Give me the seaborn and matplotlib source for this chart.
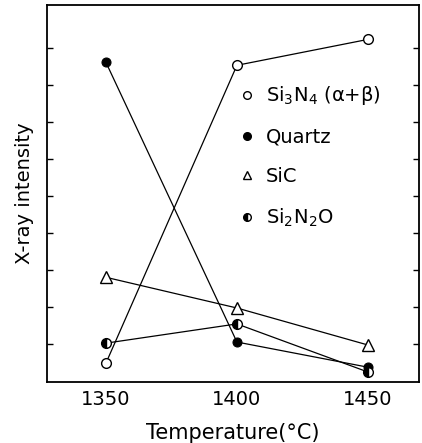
import matplotlib
matplotlib.use("Agg")
import matplotlib.pyplot as plt
import seaborn as sns
import numpy as np
from matplotlib.lines import Line2D

sns.set_theme(style="white")
plt.rcParams['font.family'] = ['DejaVu Sans']
plt.rcParams['mathtext.fontset'] = 'dejavusans'
plt.rcParams['text.color'] = 'black'
plt.rcParams['axes.labelcolor'] = 'black'
plt.rcParams['xtick.color'] = 'black'
plt.rcParams['ytick.color'] = 'black'

temperatures = [1350, 1400, 1450]
si3n4 = [0.47, 8.52, 9.22]
quartz = [8.60, 1.04, 0.36]
sic = [2.79, 1.96, 0.96]
si2n2o = [1.01, 1.53, 0.23]
labels = ["Si$_3$N$_4$ (α+β)", "Quartz", "SiC", "Si$_2$N$_2$O"]
xticks = [1350, 1400, 1450]

fig = plt.figure(figsize=(4.22, 4.43), dpi=100)
ax = fig.add_axes([47/422, (443-382)/443, (419-47)/422, (382-5)/443])

lw = 0.9
sns.lineplot(x=temperatures, y=si3n4, ax=ax, color="black", lw=lw, marker="o",
             markersize=7, markerfacecolor="white", markeredgecolor="black", markeredgewidth=1.0)
sns.lineplot(x=temperatures, y=quartz, ax=ax, color="black", lw=lw, marker="o",
             markersize=6.5, markerfacecolor="black", markeredgecolor="black")
sns.lineplot(x=temperatures, y=sic, ax=ax, color="black", lw=lw, marker="^",
             markersize=8, markerfacecolor="white", markeredgecolor="black", markeredgewidth=1.0)
sns.lineplot(x=temperatures, y=si2n2o, ax=ax, color="black", lw=lw, marker="o",
             markersize=7, fillstyle="left", markerfacecolor="black",
             markerfacecoloralt="white", markeredgecolor="black", markeredgewidth=1.0)

ax.set_xlim(1327.5, 1469.5)
ax.set_ylim(-0.04, 10.15)
ax.set_xticks(xticks)
ax.set_xticklabels([str(t) for t in xticks], fontsize=14)
ax.set_yticks(np.arange(1, 10))
ax.set_yticklabels([])
ax.tick_params(axis="x", direction="in", length=5, width=1.0, color="black", pad=6)
ax.tick_params(axis="y", direction="in", length=4, width=1.0, color="black",
               left=True, right=True)
for s in ax.spines.values():
    s.set_color("black")
    s.set_linewidth(1.3)

ax.set_xlabel("Temperature(°C)", fontsize=15, labelpad=10)
ax.set_ylabel("X-ray intensity", fontsize=14, labelpad=6)

handles = [
    Line2D([], [], ls="none", marker="o", markersize=5.5, markerfacecolor="white", markeredgecolor="black"),
    Line2D([], [], ls="none", marker="o", markersize=5.5, markerfacecolor="black", markeredgecolor="black"),
    Line2D([], [], ls="none", marker="^", markersize=5.5, markerfacecolor="white", markeredgecolor="black"),
    Line2D([], [], ls="none", marker="o", markersize=5.5, fillstyle="left", markerfacecolor="black",
           markerfacecoloralt="white", markeredgecolor="black"),
]
ax.legend(handles, labels, loc="upper left", bbox_to_anchor=(0.49, 0.815), frameon=False,
          fontsize=14, handlelength=0.8, handletextpad=0.6, labelspacing=1.05, borderpad=0)

fig.savefig("out.png", dpi=100)
